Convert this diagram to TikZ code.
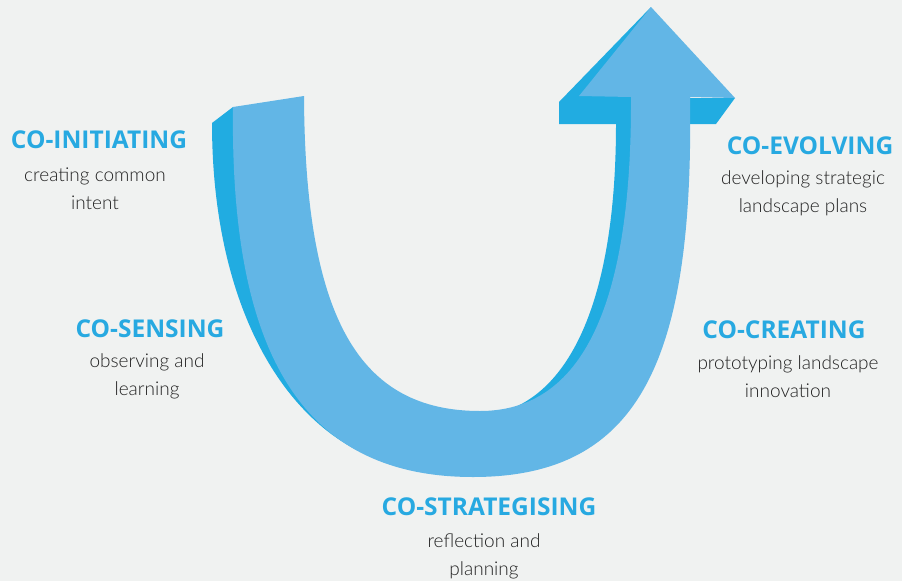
\documentclass[tikz,border=0pt]{standalone}
\usepackage{fontspec}
\setmainfont{Lato}
\newfontfamily\headfont{Open Sans}
\newfontfamily\notefont{Lato Light}

\definecolor{bgcol}{HTML}{F0F2F1}
\definecolor{facecol}{HTML}{62B6E6}
\definecolor{sidecol}{HTML}{21ACE1}
\definecolor{headcol}{HTML}{27A9E1}
\definecolor{notecol}{HTML}{222222}

\tikzset{
  stagehead/.style={anchor=base, inner sep=0pt, text=headcol,
    font=\headfont\bfseries\fontsize{24.5}{24.5}\selectfont},
  stagenote/.style={anchor=base, inner sep=0pt, align=center, text=notecol,
    font=\notefont\fontsize{19}{27.5}\selectfont},
}

\begin{document}
\begin{tikzpicture}[x=1pt,y=-1pt]
    \fill[bgcol] (0,0) rectangle (902,581);
    \useasboundingbox (0,0) rectangle (902,581);
    % dark sides of the U arrow
    \fill[sidecol] (233,107) -- (212,123) .. controls (212,300) and (280,420) .. (372,457)
        -- (330,420) -- (270,250) -- (260,110) -- cycle;
    \fill[sidecol] (651,7) -- (559,102) -- (559,124) -- (616,124)
        .. controls (616,300) and (570,390) .. (505,411)
        -- (560,430) -- (650,300) -- (660,110) -- (651,30) -- cycle;
    \fill[sidecol] (688,98) -- (735,98) -- (716,124) -- (688,124) -- cycle;
    % front face
    \fill[facecol] (233,107) -- (304,96)
        .. controls (305,320) and (360,411) .. (480,411)
        .. controls (575,411) and (632,320) .. (631,97)
        -- (579,96) -- (651,7) -- (735,98) -- (690,97)
        .. controls (694,360) and (640,477) .. (473,477)
        .. controls (300,477) and (230,350) .. (233,107)
        -- cycle;
    % stages
    \node[stagehead] (coinit) at (99,148) {CO-INITIATING};
    \node[stagenote] (coinitnote) at (95,209) {creating common\\intent};
    \node[stagehead] (cosense) at (150,337) {CO-SENSING};
    \node[stagenote] (cosensenote) at (147,395) {observing and\\learning};
    \node[stagehead] (costrat) at (489,515) {CO-STRATEGISING};
    \node[stagenote] (costratnote) at (484,575) {reflection and\\planning};
    \node[stagehead] (cocreate) at (784,338) {CO-CREATING};
    \node[stagenote] (cocreatenote) at (788,397) {prototyping landscape\\innovation};
    \node[stagehead] (coevolve) at (810,154) {CO-EVOLVING};
    \node[stagenote] (coevolvenote) at (803,212) {developing strategic\\landscape plans};
\end{tikzpicture}
\end{document}
